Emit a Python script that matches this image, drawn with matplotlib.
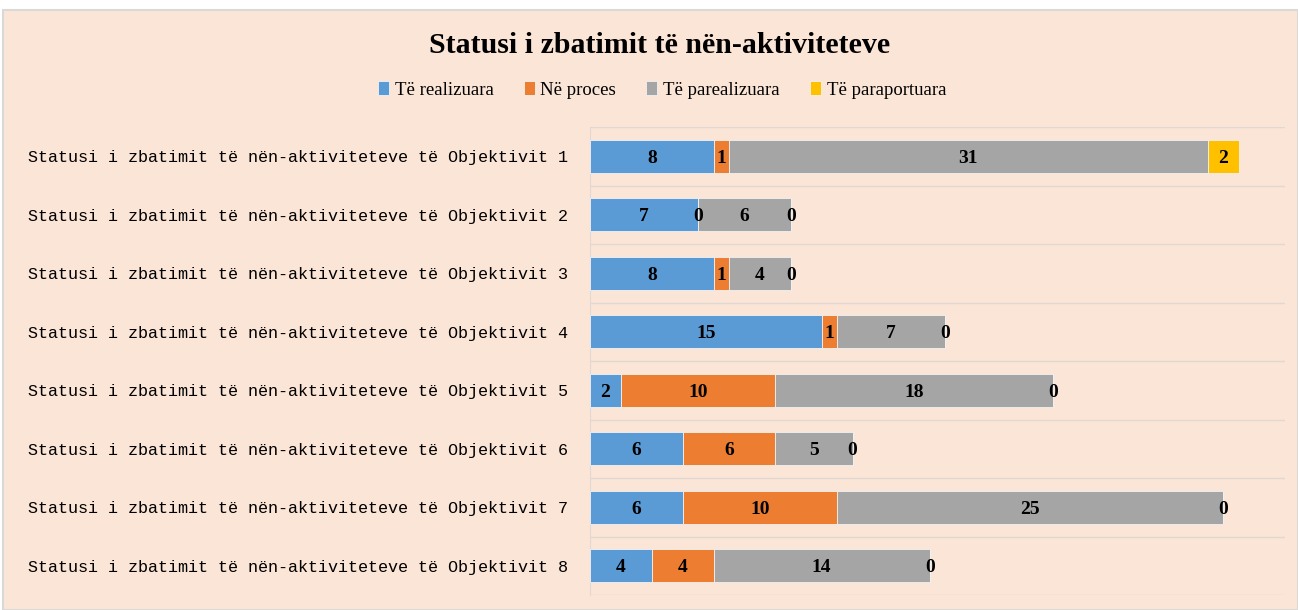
import matplotlib.pyplot as plt
import numpy as np
from matplotlib.patches import Rectangle

# donnees
categories = ["Statusi i zbatimit të nën-aktiviteteve të Objektivit %d" % i for i in range(1, 9)]
series_names = ["Të realizuara", "Në proces", "Të parealizuara", "Të paraportuara"]
realizuara = [8, 7, 8, 15, 2, 6, 6, 4]
proces = [1, 0, 1, 1, 10, 6, 10, 4]
parealizuara = [31, 6, 4, 7, 18, 5, 25, 14]
paraportuara = [2, 0, 0, 0, 0, 0, 0, 0]
colors = ["#5B9BD5", "#ED7D31", "#A5A5A5", "#FFC000"]
bg = "#FBE5D6"

fig = plt.figure(figsize=(12.98, 6.10), dpi=100)
fig.patch.set_facecolor("white")
fond = Rectangle((3 / 1298, 0), 1 - 3 / 1298, 1 - 10 / 610, transform=fig.transFigure,
                 facecolor=bg, edgecolor="#D9D9D9", linewidth=1.5, zorder=-10)
fig.patches.append(fond)

ax = fig.add_axes([590 / 1298, 15 / 610, 695 / 1298, 468 / 610])
ax.set_zorder(1)
ax.set_facecolor(bg)

y = np.arange(len(categories))
left = np.zeros(len(categories))
for name, vals, c in zip(series_names, [realizuara, proces, parealizuara, paraportuara], colors):
    bars = ax.barh(y, vals, left=left, height=0.56, color=c, edgecolor="#F2F2F2", linewidth=0.6,
                   label=name, zorder=3)
    txts = ax.bar_label(bars, labels=[str(v) for v in vals], label_type="center",
                        fontfamily="Liberation Serif", fontweight="bold", fontsize=14, color="black", zorder=4)
    for t in txts:
        t.set_va("center_baseline")
    left += np.array(vals)

ax.set_xlim(0, 45)
ax.set_ylim(7.5, -0.5)
ax.set_yticks(y)
ax.set_yticklabels(categories, fontfamily="Liberation Mono", fontsize=12.1)
ax.tick_params(axis="y", length=0, pad=16)
ax.set_xticks([])
ax.set_yticks(np.arange(-0.5, 8, 1), minor=True)
ax.tick_params(axis="y", which="minor", length=0)
ax.grid(axis="y", which="minor", color="#E0D8D2", linewidth=1, zorder=0)
for s in ["top", "right", "bottom"]:
    ax.spines[s].set_visible(False)
ax.spines["left"].set_color("#E0D8D2")

fig.text(0.508, 0.926, "Statusi i zbatimit të nën-aktiviteteve", ha="center", va="center",
         fontfamily="Liberation Serif", fontweight="bold", fontsize=21.5)
fig.legend(loc="center", bbox_to_anchor=(0.51, 0.853), ncol=4, frameon=False,
           prop={"family": "Liberation Serif", "size": 13.5}, handlelength=0.6, handleheight=0.8,
           handletextpad=0.3, columnspacing=1.6)

plt.savefig("out.png", dpi=100, facecolor=fig.get_facecolor())
